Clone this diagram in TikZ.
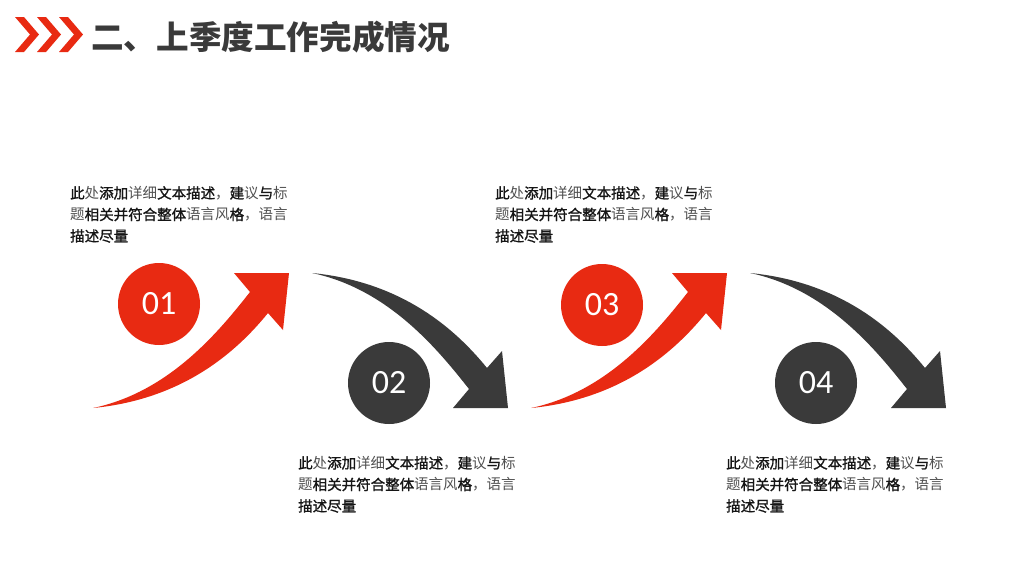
\documentclass[tikz,border=0pt]{standalone}
\usepackage{fontspec}
\newfontfamily\cjk{Noto Sans CJK SC}
\newfontfamily\cjkfb[FakeBold=1.2]{Noto Sans CJK SC}
\newfontfamily\numfont{Carlito}
\definecolor{myred}{HTML}{E82A12}
\definecolor{mydark}{HTML}{3A3A3A}
\definecolor{txtb}{HTML}{151515}
\definecolor{txtl}{HTML}{505050}
\newcommand\bb[1]{{\cjkfb\color{txtb}#1}}
\newcommand\desc{\bb{此}处\bb{添加}详细\bb{文本描述}，\bb{建}议\bb{与}标\\题\bb{相关并符合整体}语言风\bb{格}，语言\\\bb{描述尽量}}
\tikzset{
  numcirc/.style={circle, minimum size=82pt, inner sep=0pt, text=white, font=\numfont\fontsize{34}{34}\selectfont},
  desctext/.style={anchor=north west, inner sep=0pt, align=left, text=txtl, font=\cjk\fontsize{14.5}{21.5}\selectfont},
}
\begin{document}
\begin{tikzpicture}[x=1pt,y=-1pt]
\useasboundingbox (0,0) rectangle (1024,576);
\fill[white] (0,0) rectangle (1024,576);
% title chevrons
\foreach \x in {15,37,59}{
  \fill[myred] (\x,17) -- (\x+9,17) -- (\x+24,34.5) -- (\x+9,52) -- (\x,52) -- (\x+15,34.5) -- cycle;
}
\node[anchor=west, inner sep=0pt, text=mydark, font=\cjk\bfseries\fontsize{32.6}{32.6}\selectfont] (title) at (91,37) {二、上季度工作完成情况};
% arrows
\foreach \s in {0,438}{
\begin{scope}[xshift=\s]
  \fill[myred] (93,408) .. controls (170,392) and (220,330) .. (250,292)
    -- (234,273) -- (289,273) -- (283,330) -- (268,313)
    .. controls (230,360) and (175,400) .. (93,408) -- cycle;
  \fill[mydark] (312,273) .. controls (389,289) and (439,351) .. (469,389)
    -- (453,408) -- (508,408) -- (502,351) -- (487,368)
    .. controls (449,321) and (394,281) .. (312,273) -- cycle;
\end{scope}
}
% circles
\node[numcirc, fill=myred] (c1) at (159,304) {01};
\node[numcirc, fill=mydark] (c2) at (389,383) {02};
\node[numcirc, fill=myred] (c3) at (602,305) {03};
\node[numcirc, fill=mydark] (c4) at (816,383) {04};
% texts
\node[desctext] (t1) at (70,186) {\desc};
\node[desctext] (t2) at (298,456) {\desc};
\node[desctext] (t3) at (495,186) {\desc};
\node[desctext] (t4) at (726,456) {\desc};
\end{tikzpicture}
\end{document}
